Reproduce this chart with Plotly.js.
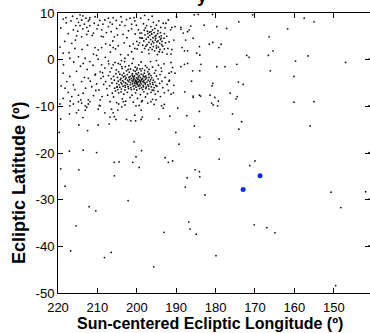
<!DOCTYPE html>
<html>
<head>
<meta charset="utf-8">
<script src="https://cdn.plot.ly/plotly-3.0.1.min.js"></script>
<style>html,body{margin:0;padding:0;background:#fff;}#chart{width:370px;height:333px;}</style>
</head>
<body>
<div id="chart"></div>
<script>
// Field stars scattered over the whole frame: [longitude, latitude]
const fieldStars = [
[189.9,9.2],[185.4,9.6],[184.4,9.7],[180.8,9.7],[170.6,9.6],[174.1,8.1],[182.9,7.4],[179.7,7.1],[177.2,6.7],[186.3,7.2],
[186.7,6.4],[188.8,6.9],[188.8,6.5],[190.3,7.1],[191.1,6.9],[192.6,7.8],[166.4,4.9],[165.4,1.9],[166.6,0.9],[172.1,0.9],
[171.5,0.5],[187.1,6.0],[188.2,5.7],[185.7,4.6],[187.6,4.2],[180.7,3.7],[181.6,3.3],[178.6,3.3],[179.2,2.6],[184.1,2.8],
[187.1,1.9],[187.9,1.9],[188.5,2.6],[184.8,1.4],[184.0,1.0],[191.3,1.2],[187.1,-0.8],[187.9,-1.0],[183.7,-1.0],[188.8,-1.5],
[191.3,-0.6],[190.9,-1.7],[179.7,-1.5],[177.6,-1.5],[174.6,-1.0],[166.1,-2.4],[185.8,-2.4],[184.0,-2.4],[190.3,-2.9],[191.8,-2.9],
[186.1,-4.6],[180.7,-5.1],[180.9,-5.6],[174.2,-4.8],[173.0,-5.3],[191.8,-4.6],[187.8,-6.9],[190.7,-7.1],[191.3,-7.4],[185.7,-7.8],
[185.7,-8.1],[184.1,-7.6],[183.8,-7.8],[181.4,-7.6],[180.2,-8.1],[179.3,-8.9],[176.3,-7.2],[174.5,-7.9],[174.8,-8.4],[181.0,-9.3],
[195.1,-8.6],[193.0,-9.6],[157.5,8.9],[155.0,8.1],[161.7,6.6],[156.5,0.8],[159.7,-0.3],[147.0,-0.6],[141.1,0.1],[160.1,-3.6],
[160.1,-9.1],[155.0,-9.0],[193.7,-9.9],[193.3,-10.4],[189.6,-10.4],[180.6,-9.7],[179.5,-9.9],[184.1,-11.1],[187.3,-12.0],[191.6,-12.1],
[175.7,-11.6],[194.4,-12.7],[173.4,-13.3],[185.4,-14.2],[174.1,-14.9],[190.1,-15.6],[184.0,-16.6],[179.1,-17.0],[189.3,-18.1],[192.8,-21.0],
[192.0,-22.0],[190.9,-21.7],[179.1,-21.3],[170.0,-21.7],[171.3,-22.7],[185.2,-23.6],[184.1,-24.0],[184.0,-25.1],[187.2,-25.3],[187.7,-27.3],
[182.7,-29.0],[141.1,-9.9],[156.0,-14.2],[141.1,-19.9],[150.7,-28.4],[141.9,-28.3],[219.5,-9.5],[217.0,-9.9],[216.1,-9.5],[214.8,-9.0],
[214.0,-9.3],[213.1,-9.9],[212.7,-10.2],[211.9,-9.0],[212.3,-9.5],[214.8,-10.8],[213.1,-10.8],[209.3,-9.9],[209.8,-10.6],[208.1,-11.4],
[206.8,-9.0],[205.1,-9.2],[203.4,-9.0],[203.0,-9.7],[203.8,-10.1],[206.4,-10.6],[204.8,-10.8],[206.0,-11.4],[205.7,-12.2],[205.3,-12.8],
[206.8,-12.3],[202.6,-12.8],[201.5,-13.1],[200.3,-13.1],[198.9,-12.8],[198.6,-12.3],[200.5,-11.9],[198.9,-10.8],[200.2,-9.9],[198.8,-9.0],
[196.4,-9.0],[217.1,-11.6],[219.3,-12.7],[215.3,-11.4],[213.7,-12.4],[214.7,-14.0],[212.5,-15.2],[209.8,-14.0],[207.0,-13.8],[219.7,-15.6],
[200.7,-17.6],[198.8,-19.5],[213.6,-19.4],[217.1,-19.6],[210.2,-19.9],[200.2,-20.8],[205.7,-22.0],[204.5,-21.9],[201.0,-22.0],[199.4,-23.1],
[219.3,-23.4],[214.7,-23.6],[205.7,-24.9],[218.2,-27.1],[202.2,-30.2],[212.1,-31.5],[210.4,-32.4],[215.4,-35.6],[193.1,-37.0],[216.8,-41.0],
[206.5,-41.3],[208.2,-42.4],[195.7,-44.4],[186.8,-34.8],[186.5,-36.3],[184.9,-37.4],[170.2,-35.4],[167.0,-36.0],[164.9,-37.1],[179.9,-42.0],
[141.1,-29.9],[148.2,-31.7],[141.1,-39.9],[149.5,-48.4],
[218.7,8.7],[218.0,9.0],[216.7,8.3],[214.4,9.6],[214.0,8.5],[212.9,8.9],[212.3,8.3],[211.9,9.0],[214.8,8.0],[215.5,7.3],
[214.4,7.3],[213.3,7.6],[212.7,6.9],[213.7,6.6],[215.0,6.1],[216.1,6.4],[212.3,6.1],[211.9,7.3],[210.8,7.8],[209.8,7.4],
[215.3,5.1],[214.0,4.9],[212.7,5.4],[211.0,5.7],[208.9,6.4],[208.1,8.5],[207.2,8.9],[206.8,8.0],[206.0,9.0],[206.2,7.6],
[207.2,7.1],[205.1,6.7],[204.3,7.4],[203.8,8.1],[203.0,7.3],[201.7,8.9],[200.5,8.3],[201.3,7.6],[208.5,4.9],[205.7,4.9],
[206.8,3.1],[206.0,2.6],[204.7,3.0],[210.6,2.6],[209.8,2.1],[211.0,1.2],[213.1,0.3],[211.9,-0.4],[213.6,-0.8],[209.8,0.1],
[208.9,-1.1],[207.2,-0.3],[216.5,3.5],[215.7,2.4],[214.8,0.6],[217.0,0.3],[218.7,1.4],[218.7,-2.9],[217.8,-4.7],[216.1,-5.4],
[214.0,-4.7],[212.3,-4.0],[213.6,-7.2],[214.8,-7.6],[216.5,-7.9],[218.7,-8.3],[212.3,-8.6],[218.2,-6.1],[211.4,-5.8],[210.6,-3.3],
[208.5,-3.6],[208.1,-1.8],[209.3,-2.6],[206.0,-1.1],[204.7,-0.8],[203.8,-1.5],[203.0,0.3],[202.2,1.0],[201.3,1.7],[200.5,2.4],
[199.6,3.1],[200.0,3.9],[198.8,4.6],[199.2,5.7],
[217.9,7.9],[216.3,9.3],[215.2,8.8],[213.7,9.4],[212.0,8.6],[210.6,9.2],[209.4,8.4],[208.6,7.6],[210.1,6.6],[211.3,5.2],
[209.0,5.0],[207.7,5.8],[206.5,6.0],[205.2,8.4],[204.0,9.2],[202.6,8.6],[202.1,6.2],[203.5,5.4],[204.9,5.3],[206.1,4.0],
[207.9,3.4],[208.9,2.6],[212.5,3.1],[213.9,2.2],[215.6,4.2],[217.4,5.6],[218.3,3.9],[219.3,6.8],[219.5,2.7],[217.2,1.5],
[216.0,-0.5],[214.3,-1.4],[212.6,-2.1],[211.1,-1.2],[210.2,0.9],[208.0,0.5],[206.7,1.6],[205.4,2.3],[204.1,1.1],[203.2,3.6],
[202.5,4.7],[201.8,2.9],[218.6,-1.1],[219.2,-5.6],[217.0,-3.6],[215.3,-2.5],[213.3,-3.8],[211.8,-4.6],[210.4,-6.6],[213.0,-6.1],
[215.7,-6.4],[217.4,-7.0],[211.0,-7.7],[209.5,-9.8],[214.2,-8.6],[216.9,-8.9]
];

// Upper (northern) concentration near 196 deg, +4 deg
const upperCluster = [
[196.8,5.9],[196.2,5.5],[195.6,5.8],[195.1,5.2],[194.7,5.6],[194.3,4.9],[195.9,4.7],[196.5,4.3],[197.1,4.8],[195.3,4.2],
[194.9,3.8],[194.2,3.5],[195.7,3.6],[196.3,3.3],[196.9,3.7],[197.4,3.2],[195.0,3.0],[194.5,2.7],[195.8,2.8],[196.6,2.6],
[194.0,4.3],[193.6,3.9],[193.8,5.1],[197.6,4.4],[197.9,5.3],[198.2,4.0],[196.0,6.4],[195.4,6.7],[194.6,6.2],[197.3,6.1],
[193.4,2.9],[193.1,4.6],[192.7,3.6],[198.5,3.1],[198.0,2.4],[197.0,2.1],[195.5,1.9],[194.1,2.2],[196.4,7.1],[195.0,7.4],
[197.8,6.8],[198.8,5.7],[199.2,4.7],[199.6,6.4],[193.9,6.9],[193.0,5.6],[192.4,5.0],[192.1,2.4],[191.8,3.8],[193.3,7.8],
[194.4,8.3],[195.8,8.0],[197.0,8.6],[198.3,7.7],[199.0,8.9],[200.1,7.4],[200.4,5.5],[200.9,3.4],[199.9,2.3],[198.7,1.6],
[196.9,1.3],[194.8,1.1],[193.5,1.6],[192.3,1.2],[191.4,6.4],[191.1,2.2],[190.6,4.2],[192.0,8.5],[196.1,9.3],[198.0,9.5],
[200.7,9.0],[201.3,6.6],[199.3,3.6],[198.6,4.6],[197.7,2.9],[196.0,3.9],[195.2,4.6],[194.6,4.0],[193.7,3.2],[196.7,5.2],
[195.4,5.0],[194.0,5.8],[197.2,5.6],[198.1,6.3],[196.1,2.2],[194.3,1.7],[193.0,2.3],[195.0,2.5],[196.4,6.0],[197.5,7.3],
[193.8,4.6],[192.8,6.8]
];

// Main dense concentration near 200 deg, -4.5 deg (core + halo)
const mainCluster = [
[197.2,-2.6],[198.1,-2.9],[198.9,-2.4],[199.6,-2.8],[200.4,-2.5],[201.1,-3.0],[201.9,-2.7],[202.6,-2.4],[203.3,-2.9],[196.8,-3.0],
[200.0,-2.2],[202.2,-2.1],[199.2,-2.0],
[196.4,-3.4],[197.0,-3.2],[197.7,-3.5],[198.4,-3.3],[198.9,-3.1],[199.4,-3.4],[199.9,-3.2],[200.6,-3.5],[201.2,-3.3],[201.7,-3.6],
[202.4,-3.2],[203.0,-3.5],[203.7,-3.3],[204.3,-3.1],[200.2,-3.0],
[196.9,-3.8],[197.5,-3.9],[198.0,-3.7],[198.6,-4.0],[199.1,-3.8],[199.6,-3.7],[200.1,-3.9],[200.8,-3.8],[201.4,-4.0],[202.0,-3.8],
[202.7,-3.9],[203.4,-3.7],[204.0,-4.0],[196.2,-3.9],[198.3,-3.6],[199.8,-4.1],[201.0,-3.6],
[196.5,-4.3],[197.1,-4.4],[197.8,-4.2],[198.2,-4.5],[198.8,-4.3],[199.3,-4.4],[199.7,-4.2],[200.3,-4.4],[200.7,-4.1],[201.2,-4.5],
[201.8,-4.3],[202.3,-4.4],[202.9,-4.2],[203.6,-4.5],[204.2,-4.3],[195.8,-4.4],[199.0,-4.6],[200.0,-4.6],[200.9,-4.3],[198.5,-4.1],
[196.0,-4.9],[196.7,-4.7],[197.4,-4.8],[197.9,-5.0],[198.5,-4.7],[199.1,-4.9],[199.5,-4.7],[200.1,-4.8],[200.6,-5.0],[201.0,-4.7],
[201.6,-4.9],[202.1,-4.7],[202.8,-5.0],[203.3,-4.8],[204.0,-4.9],[204.7,-4.6],[195.4,-4.8],[199.8,-5.0],[198.2,-4.9],[200.4,-4.6],
[195.9,-5.3],[196.6,-5.2],[197.2,-5.4],[197.8,-5.3],[198.4,-5.5],[198.9,-5.2],[199.4,-5.4],[199.9,-5.3],[200.5,-5.5],[201.1,-5.2],
[201.7,-5.4],[202.4,-5.3],[203.0,-5.5],[203.8,-5.2],[204.5,-5.4],[205.1,-5.1],[195.2,-5.5],[200.2,-5.1],
[196.3,-5.8],[197.0,-5.7],[197.6,-5.9],[198.3,-5.8],[198.8,-6.0],[199.6,-5.7],[200.2,-5.9],[200.9,-5.7],[201.5,-6.0],[202.2,-5.8],
[202.9,-5.9],[203.5,-5.7],[204.3,-5.9],[205.0,-5.8],[195.6,-6.0],[199.2,-5.6],
[196.9,-6.3],[197.7,-6.2],[198.5,-6.4],[199.3,-6.2],[200.0,-6.5],[200.7,-6.3],[201.4,-6.4],[202.1,-6.2],[203.0,-6.5],[203.9,-6.3],
[204.8,-6.4],[196.1,-6.5],[205.6,-6.1],
[205.5,-0.6],[204.2,-1.0],[203.1,-0.4],[202.0,-1.3],[201.2,-0.8],[200.4,-1.6],[199.5,-1.1],[198.6,-1.9],[197.8,-1.3],[196.9,-2.1],
[196.0,-1.6],[195.2,-2.3],[194.5,-1.2],[206.4,-1.8],[205.2,-2.2],[204.6,-2.6],[203.7,-1.9],[202.9,-1.5],[201.6,-2.0],[200.8,-2.3],
[199.9,-1.8],[198.0,-2.3],[197.4,-1.7],[207.1,-0.9],[206.8,-2.6],[203.9,-0.2],[200.9,0.2],[198.9,-0.5],[196.5,-0.4],[195.0,-0.2],
[193.8,-1.8],[193.1,-0.9],
[205.3,-3.0],[205.9,-3.6],[206.5,-4.1],[207.2,-3.4],[207.9,-4.7],[206.3,-5.0],[205.7,-4.4],[206.9,-5.6],[207.6,-6.2],[208.4,-5.3],
[209.1,-4.0],[208.7,-2.8],[209.6,-6.5],[205.4,-6.7],[206.2,-7.2],[207.4,-7.6],[208.8,-7.9],[210.2,-5.2],[210.5,-3.1],[204.6,-7.1],
[205.9,-8.0],[209.3,-8.6],[204.9,-3.8],[205.0,-5.9],
[195.5,-2.9],[195.0,-3.5],[194.6,-4.1],[194.1,-3.2],[193.6,-4.6],[194.9,-5.7],[194.2,-5.1],[193.4,-6.0],[192.8,-3.8],[192.3,-5.3],
[191.7,-4.4],[193.0,-7.1],[194.6,-6.8],[195.3,-7.4],[192.0,-6.6],[191.2,-2.6],[190.6,-5.5],[193.7,-2.5],[195.7,-6.6],[194.0,-7.9],
[196.4,-7.0],[197.3,-7.3],[198.2,-6.9],[199.1,-7.5],[200.3,-7.1],[201.2,-7.6],[202.4,-7.0],[203.3,-7.4],[204.0,-6.9],[197.8,-8.0],
[199.8,-8.3],[201.7,-8.1],[203.7,-8.4],[196.0,-8.5],[198.6,-8.8],[200.9,-9.1],[202.8,-8.9],[197.2,-9.3],[195.6,-9.6],[204.6,-9.5],
[199.4,-9.8]
];

// Highlighted (blue) objects
const candLon = [173.0, 168.7];
const candLat = [-27.8, -24.9];

// Axis ticks
const xTickVals = [220, 210, 200, 190, 180, 170, 160, 150];
const xTickText = ['220', '210', '200', '190', '180', '170', '160', '150'];
const yTickVals = [10, 0, -10, -20, -30, -40, -50];
const yTickText = ['10', '0', '-10', '-20', '-30', '-40', '-50'];

const allStars = fieldStars.concat(upperCluster, mainCluster);
const starLon = allStars.map(p => p[0]);
const starLat = allStars.map(p => p[1]);

const FONT = 'Arial, "Liberation Sans", sans-serif';

const traces = [
  {
    type: 'scatter', mode: 'markers', x: starLon, y: starLat,
    marker: { size: 1.8, color: '#111111', line: { width: 0 } },
    hoverinfo: 'skip', showlegend: false
  },
  {
    type: 'scatter', mode: 'markers', x: candLon, y: candLat,
    marker: { size: 5, color: '#0a2cf0', line: { width: 0 } },
    hoverinfo: 'skip', showlegend: false
  }
];

const layout = {
  width: 370, height: 333,
  margin: { l: 58, r: 0, t: 13, b: 40, pad: 0 },
  paper_bgcolor: '#ffffff', plot_bgcolor: '#ffffff',
  showlegend: false,
  font: { family: FONT, size: 13, color: '#000' },
  xaxis: {
    range: [220, 140.8], autorange: false,
    tickmode: 'array', tickvals: xTickVals, ticktext: xTickText,
    ticks: 'inside', ticklen: 5, tickwidth: 1, tickcolor: '#000',
    ticklabelstandoff: 2,
    showline: true, linecolor: '#000', linewidth: 1, mirror: 'ticks',
    showgrid: false, zeroline: false,
    tickfont: { family: FONT, size: 13, color: '#000' }
  },
  yaxis: {
    range: [-50, 10], autorange: false,
    tickmode: 'array', tickvals: yTickVals, ticktext: yTickText,
    ticks: 'inside', ticklen: 5, tickwidth: 1, tickcolor: '#000',
    showline: true, linecolor: '#000', linewidth: 1, mirror: 'ticks',
    showgrid: false, zeroline: false,
    tickfont: { family: FONT, size: 13, color: '#000' }
  },
  annotations: [
    {
      text: '<b>Sun-centered Ecliptic Longitude (º)</b>',
      xref: 'paper', yref: 'paper',
      x: (210 - 58) / 312, y: (293 - 334) / 280,
      xanchor: 'center', yanchor: 'bottom', showarrow: false,
      font: { family: FONT, size: 16, color: '#000' }
    },
    {
      text: '<b>Ecliptic Latitude (º)</b>',
      xref: 'paper', yref: 'paper', textangle: -90,
      x: (19 - 58) / 312, y: (293 - 183) / 280,
      xanchor: 'center', yanchor: 'middle', showarrow: false,
      font: { family: FONT, size: 18, color: '#000' }
    },
    {
      text: '<b>y</b>',
      xref: 'paper', yref: 'paper',
      x: (202 - 58) / 312, y: (293 + 16) / 280,
      xanchor: 'center', yanchor: 'top', showarrow: false,
      font: { family: FONT, size: 18, color: '#000' }
    }
  ]
};

Plotly.newPlot('chart', traces, layout, { staticPlot: true, displayModeBar: false });
</script>
</body>
</html>
